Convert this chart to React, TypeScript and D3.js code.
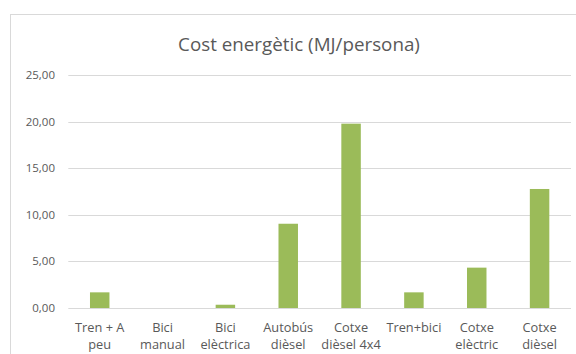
import React from "react";
import * as d3 from "d3";

const categories: string[][] = [
  ["Tren + A", "peu"],
  ["Bici", "manual"],
  ["Bici", "elèctrica"],
  ["Autobús", "dièsel"],
  ["Cotxe", "dièsel 4x4"],
  ["Tren+bici"],
  ["Cotxe", "elèctric"],
  ["Cotxe", "dièsel"],
];
const values: number[] = [1.68, 0, 0.35, 9.04, 19.78, 1.68, 4.33, 12.77];
const yTicks: number[] = [0, 5, 10, 15, 20, 25];
const title = "Cost energètic (MJ/persona)";

const W = 576;
const H = 354;
const left = 68.3;
const right = 571;
const top = 75;
const bottom = 308;

export default function App() {
  const x = d3
    .scaleBand<number>()
    .domain(categories.map((_, i) => i))
    .range([left, right])
    .padding(0);
  const y = d3.scaleLinear().domain([0, 25]).range([bottom, top]);
  const bw = x.bandwidth() * 0.31;
  const fmt = (v: number) => v.toFixed(2).replace(".", ",");
  const font = "'Open Sans', 'Noto Sans', sans-serif";

  return (
    <div style={{ position: "fixed", left: 0, top: 0, width: W, height: H, background: "#fff" }}>
      <svg width={W} height={H} style={{ display: "block" }}>
        <rect x={10.5} y={14.5} width={W + 10} height={H + 10} fill="#fff" stroke="#d9d9d9" strokeWidth={1} />
        <text
          x={299}
          y={50.5}
          textAnchor="middle"
          fontFamily={font}
          fontSize={18.8}
          fill="#595959"
        >
          {title}
        </text>
        {yTicks.map((t) => (
          <g key={t}>
            <line
              x1={left}
              x2={right}
              y1={Math.round(y(t)) + 0.5}
              y2={Math.round(y(t)) + 0.5}
              stroke="#d9d9d9"
              strokeWidth={1.2}
            />
            <text
              x={55}
              y={y(t) + 4}
              textAnchor="end"
              fontFamily={font}
              fontSize={11.5}
              fill="#595959"
            >
              {fmt(t)}
            </text>
          </g>
        ))}
        {values.map((v, i) => {
          const cx = (x(i) as number) + x.bandwidth() / 2;
          return (
            <rect
              key={i}
              x={cx - bw / 2}
              y={y(v)}
              width={bw}
              height={y(0) - y(v)}
              fill="#9bbb59"
            />
          );
        })}
        {categories.map((lines, i) => {
          const cx = (x(i) as number) + x.bandwidth() / 2;
          return (
            <text
              key={i}
              x={cx}
              textAnchor="middle"
              fontFamily={font}
              fontSize={12.8}
              fill="#595959"
            >
              {lines.map((l, j) => (
                <tspan key={j} x={cx} y={331.5 + j * 17}>
                  {l}
                </tspan>
              ))}
            </text>
          );
        })}
      </svg>
    </div>
  );
}
